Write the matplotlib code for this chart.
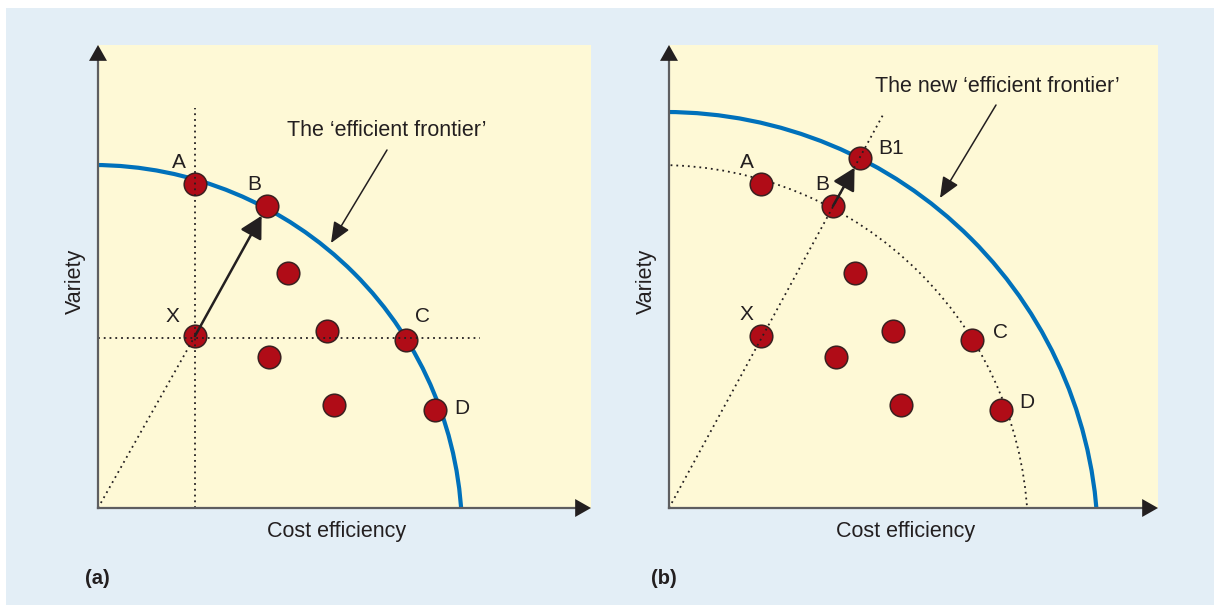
# two-panel "efficient frontier" sketch: variety vs cost efficiency

import matplotlib
matplotlib.use("Agg")
import matplotlib.pyplot as plt
from matplotlib.patches import Arc, Rectangle

plt.rcParams['font.family'] = ['Liberation Sans', 'DejaVu Sans']

# --- data (units: roughly pixels from each panel's origin) ---
labels_a = ['A', 'B', 'X', 'C', 'D']
named_a_x = [97, 169, 97, 308, 337]
named_a_y = [324, 302, 172, 168, 98]
other_a_x = [190, 229, 171, 236]
other_a_y = [235, 177, 151, 103]

labels_b = ['A', 'B', 'B1', 'X', 'C', 'D']
named_b_x = [92, 164, 191, 92, 303, 332]
named_b_y = [324, 302, 350, 172, 168, 98]
other_b_x = [186, 224, 167, 232]
other_b_y = [235, 177, 151, 103]

# frontiers as circle arcs: (centre x, centre y, radius)
frontier_a = (-5, -26, 369)
old_frontier_b = (-10, -26, 369)
new_frontier_b = (-4, -37, 433)

callout_a = "The \u2018efficient frontier\u2019"
callout_b = "The new \u2018efficient frontier\u2019"
x_title = "Cost efficiency"
y_title = "Variety"

# --- styles ---
W, H = 1214, 605
BG = '#e3eef6'
PANEL = '#fef9d6'
BLUE = '#0071bb'
RED = '#b00c17'
EDGE = '#3a2020'
INK = '#231f20'
AXGREY = '#5e5e60'
DOT = (0, (1, 2.2))
FS = 15.5

label_off_a = {'A': (-16, 21), 'B': (-13, 22), 'X': (-23, 19), 'C': (17, 23), 'D': (27, 2)}
label_off_b = {'A': (-14, 21), 'B': (-11, 21), 'B1': (31, 10), 'X': (-15, 21), 'C': (29, 7), 'D': (26, 8)}

fig = plt.figure(figsize=(W / 100, H / 100), dpi=100)
fig.patch.set_facecolor('white')
fig.add_artist(Rectangle((6 / W, 0), 1 - 6 / W, (H - 8) / H, transform=fig.transFigure,
                         facecolor=BG, edgecolor='none', zorder=-10))


def make_panel(left_px, width_px):
    ax = fig.add_axes([left_px / W, (H - 508) / H, width_px / W, 463 / H])
    ax.set_xlim(0, width_px)
    ax.set_ylim(0, 463)
    ax.set_facecolor(PANEL)
    ax.set_xticks([])
    ax.set_yticks([])
    for s in ax.spines.values():
        s.set_visible(False)
    # axis lines with arrow heads
    ax.plot([0, 0.98], [0, 0], transform=ax.transAxes, color=AXGREY, lw=1.6, clip_on=False, zorder=6)
    ax.plot([0, 0], [0, 0.98], transform=ax.transAxes, color=AXGREY, lw=1.6, clip_on=False, zorder=6)
    head = dict(arrowstyle='-|>,head_length=0.6,head_width=0.34', mutation_scale=19,
                color=INK, lw=0, shrinkA=0, shrinkB=0)
    ax.annotate('', xy=(1, 0), xytext=(0.95, 0), xycoords='axes fraction', arrowprops=head, zorder=7)
    ax.annotate('', xy=(0, 1), xytext=(0, 0.95), xycoords='axes fraction', arrowprops=head, zorder=7)
    ax.text(width_px * 0.483, -24, x_title, ha='center', va='center', fontsize=FS, color=INK, clip_on=False)
    ax.text(-23, 227, y_title, ha='center', va='center', rotation=90, fontsize=FS, color=INK, clip_on=False)
    return ax


def frontier(ax, params, **kw):
    cx, cy, r = params
    ax.add_patch(Arc((cx, cy), 2 * r, 2 * r, theta1=0, theta2=90, **kw))


def points(ax, xs, ys, labels=None, offsets=None):
    ax.scatter(xs, ys, s=265, c=RED, edgecolors=EDGE, linewidths=1.1, zorder=3)
    if labels:
        for lab, x, y in zip(labels, xs, ys):
            dx, dy = offsets[lab]
            ax.text(x + dx, y + dy, lab, ha='center', va='center', fontsize=15, color=INK)


def callout(ax, text, text_xy, start, end):
    ax.text(text_xy[0], text_xy[1], text, ha='center', va='center', fontsize=FS, color=INK)
    ax.annotate('', xy=end, xytext=start,
                arrowprops=dict(arrowstyle='-|>,head_length=0.75,head_width=0.32', mutation_scale=17,
                                color=INK, lw=1.1, shrinkA=0, shrinkB=0), zorder=5)


def move_arrow(ax, p0, p1):
    ax.annotate('', xy=p1, xytext=p0,
                arrowprops=dict(arrowstyle='-|>,head_length=0.7,head_width=0.38', mutation_scale=19,
                                color=INK, lw=1.8, shrinkA=0, shrinkB=8), zorder=5)


# ---------------- panel (a) ----------------
ax_a = make_panel(98, 493)
frontier(ax_a, frontier_a, color=BLUE, lw=3, zorder=2)
ix = labels_a.index('X')
ib = labels_a.index('B')
xa, ya = named_a_x[ix], named_a_y[ix]
ax_a.plot([xa, xa], [0, 400], color=INK, lw=1.3, ls=DOT, zorder=4)
ax_a.plot([0, 382], [ya - 2, ya - 2], color=INK, lw=1.3, ls=DOT, zorder=4)
ax_a.plot([0, xa], [0, ya], color=INK, lw=1.3, ls=DOT, zorder=4)
points(ax_a, other_a_x, other_a_y)
points(ax_a, named_a_x, named_a_y, labels_a, label_off_a)
move_arrow(ax_a, (xa, ya), (named_a_x[ib], named_a_y[ib]))
callout(ax_a, callout_a, (289, 377), (289, 358), (233, 265))
ax_a.text(-13, -70, '(a)', ha='left', va='center', fontsize=14.5, fontweight='bold', color=INK, clip_on=False)

# ---------------- panel (b) ----------------
ax_b = make_panel(669, 489)
frontier(ax_b, new_frontier_b, color=BLUE, lw=3, zorder=2)
frontier(ax_b, old_frontier_b, color=INK, lw=1.3, ls=DOT, zorder=2)
ib = labels_b.index('B')
ib1 = labels_b.index('B1')
ax_b.plot([0, 215], [0, 395], color=INK, lw=1.3, ls=DOT, zorder=4)
points(ax_b, other_b_x, other_b_y)
points(ax_b, named_b_x, named_b_y, labels_b, label_off_b)
move_arrow(ax_b, (named_b_x[ib], named_b_y[ib]), (named_b_x[ib1], named_b_y[ib1]))
callout(ax_b, callout_b, (328, 421), (327, 403), (271, 310))
ax_b.text(-18, -70, '(b)', ha='left', va='center', fontsize=14.5, fontweight='bold', color=INK, clip_on=False)

fig.savefig('out.png', dpi=100, facecolor=fig.get_facecolor())
